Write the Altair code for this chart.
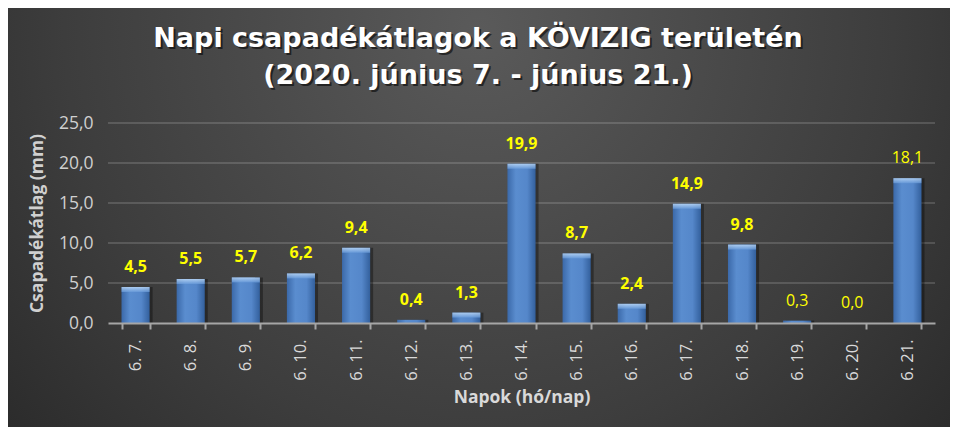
import altair as alt
import pandas as pd

days = ["6. 7.", "6. 8.", "6. 9.", "6. 10.", "6. 11.", "6. 12.", "6. 13.", "6. 14.",
        "6. 15.", "6. 16.", "6. 17.", "6. 18.", "6. 19.", "6. 20.", "6. 21."]
values = [4.5, 5.5, 5.7, 6.2, 9.4, 0.4, 1.3, 19.9, 8.7, 2.4, 14.9, 9.8, 0.3, 0.0, 18.1]
y_ticks = [0, 5, 10, 15, 20, 25]
title_line1 = "Napi csapadékátlagok a KÖVIZIG területén"
title_line2 = "(2020. június 7. - június 21.)"

df = pd.DataFrame({"nap": days, "mm": values, "idx": list(range(len(days)))})
grid_df = pd.DataFrame({"mm": y_ticks[1:]})

W, H = 827, 200
PL, PT = 100, 115
TW, TH = 942, 419

FONT = "Open Sans"
TFONT = "DejaVu Sans"

yscale = alt.Scale(domain=[0, 25], nice=False)
yaxis = alt.Axis(title="Csapadékátlag (mm)", values=y_ticks,
                 labelExpr="replace(format(datum.value, '.1f'), '.', ',')",
                 labelOverlap=False, zindex=1)

xenc = alt.X("nap:N", sort=days,
             scale=alt.Scale(paddingInner=0.49, paddingOuter=0.245),
             axis=alt.Axis(title="Napok (hó/nap)", zindex=2))
yenc = alt.Y("mm:Q", scale=yscale, axis=yaxis)

base = alt.Chart(df).encode(x=xenc, y=yenc)

bg = alt.Chart(pd.DataFrame({"k": [0]})).mark_rect(
    fill=alt.Gradient(
        gradient="radial", x1=0.5, y1=0.3, r1=0.0, x2=0.5, y2=0.3, r2=0.8,
        stops=[alt.GradientStop(offset=0, color="#5a5a5a"),
               alt.GradientStop(offset=0.55, color="#3d3d3d"),
               alt.GradientStop(offset=1, color="#202020")]),
    strokeWidth=0,
).encode(x=alt.value(-PL), x2=alt.value(TW - PL), y=alt.value(-PT), y2=alt.value(TH - PT))

grid = alt.Chart(grid_df).mark_rule(color="#ffffff", opacity=0.15, strokeWidth=2).encode(
    y=alt.Y("mm:Q", scale=yscale, axis=yaxis),
    x=alt.value(0), x2=alt.value(W))


def title_layer(text, ypix, color, dx=0, dy=0, opacity=1.0):
    return alt.Chart(pd.DataFrame({"t": [text]})).mark_text(
        font=TFONT, fontSize=27, fontWeight="bold", color=color, opacity=opacity,
        align="center", baseline="middle", dx=dx, dy=dy,
    ).encode(text="t:N", x=alt.value(370), y=alt.value(ypix))


titles = [
    title_layer(title_line1, -84, "#000000", 2, 2, 0.55),
    title_layer(title_line2, -47, "#000000", 2, 2, 0.55),
    title_layer(title_line1, -84, "#ffffff"),
    title_layer(title_line2, -47, "#ffffff"),
]

shadow = base.mark_bar(color="#000000", opacity=0.35, xOffset=3)

bars = base.mark_bar(
    fill=alt.Gradient(gradient="linear", x1=0, y1=0, x2=1, y2=0,
                      stops=[alt.GradientStop(offset=0, color="#3b69a9"),
                             alt.GradientStop(offset=0.3, color="#5a8dcf"),
                             alt.GradientStop(offset=0.7, color="#5587ca"),
                             alt.GradientStop(offset=1, color="#33609d")]),
)

bevel = base.transform_filter("datum.mm >= 1").mark_tick(
    thickness=5, yOffset=2.5, size=28,
    color=alt.Gradient(gradient="linear", x1=0, y1=0, x2=0, y2=1,
                       stops=[alt.GradientStop(offset=0, color="#d0e8ff"),
                              alt.GradientStop(offset=1, color="#6b9ddb")]),
)

lab_expr = "replace(format(datum.mm, '.1f'), '.', ',')"
labels_bold = base.transform_calculate(lab=lab_expr).transform_filter("datum.idx < 12").mark_text(
    font=FONT, fontSize=16, fontWeight="bold", color="#ffff00", baseline="middle", dy=-20,
).encode(text="lab:N")
labels_reg = base.transform_calculate(lab=lab_expr).transform_filter("datum.idx >= 12").mark_text(
    font=FONT, fontSize=16, fontWeight="normal", color="#ffff00", baseline="middle", dy=-20,
).encode(text="lab:N")

chart = alt.layer(bg, grid, *titles, shadow, bars, bevel, labels_bold, labels_reg).properties(
    width=W, height=H,
    autosize=alt.AutoSizeParams(type="none"),
    padding={"left": PL, "top": PT, "right": TW - PL - W, "bottom": TH - PT - H},
    background="#2a2a2a",
).configure_view(strokeWidth=0).configure_axisX(
    labelAngle=-90, labelAlign="right", labelBaseline="middle", labelPadding=10,
    labelColor="#d9d9d9", labelFontSize=16.5, labelFont=FONT,
    titleColor="#d9d9d9", titleFontSize=17.5, titleFont=FONT,
    titleFontWeight="bold", titlePadding=8,
    domainColor="#a6a6a6", domainWidth=2,
    tickColor="#a6a6a6", tickWidth=2, tickSize=6,
    tickBand="extent", grid=False,
).configure_axisY(
    labelColor="#d0d0d0", labelFontSize=17.5, labelFont=FONT,
    labelPadding=15, ticks=False, domain=False,
    titleColor="#d0d0d0", titleFontSize=17.5, titleFont=FONT,
    titleFontWeight="bold", titlePadding=12, grid=False,
)

chart.save("out.html", embed_options={"renderer": "svg", "actions": False})
